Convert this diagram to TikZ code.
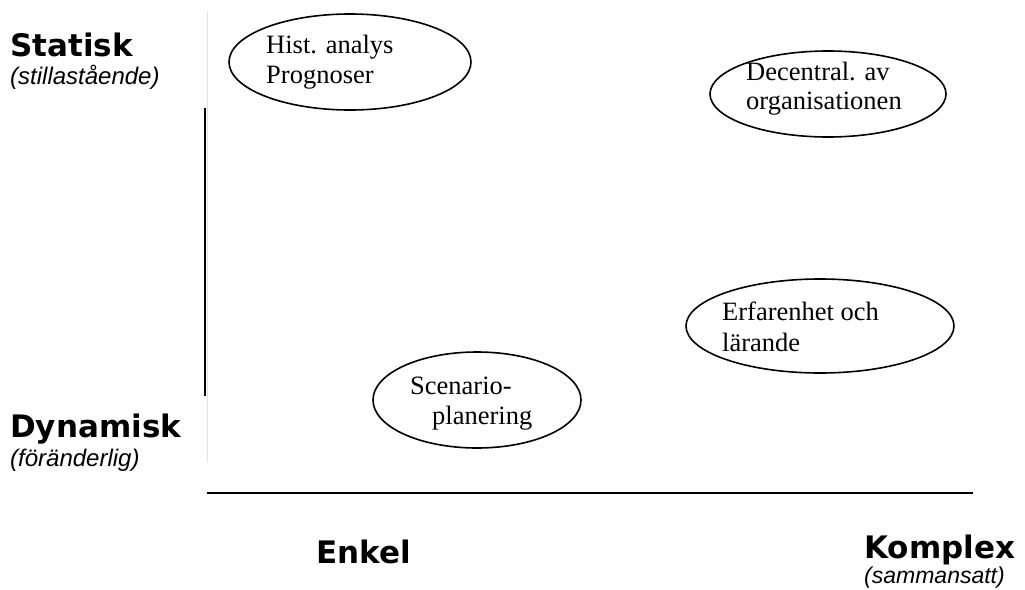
\documentclass[tikz,border=0pt]{standalone}
\usepackage{fontspec}
\setmainfont{Liberation Serif}
\newfontfamily\headfont{DejaVu Sans}
\newfontfamily\notefont{Liberation Sans}
\usetikzlibrary{shapes.geometric}

\tikzset{
  heading/.style={anchor=base west, inner sep=0pt, font=\headfont\bfseries\fontsize{31}{36}\selectfont},
  subnote/.style={anchor=base west, inner sep=0pt, font=\notefont\itshape\fontsize{24}{28}\selectfont},
  bubble/.style={draw=black, line width=1.6pt, ellipse, inner sep=0pt},
  bubbletext/.style={anchor=base west, inner sep=0pt, font=\fontsize{26.5}{30}\selectfont},
  axisline/.style={draw=black, line width=2pt},
  guideline/.style={draw=black!12, line width=0.8pt}
}

\begin{document}
\begin{tikzpicture}[x=1pt, y=-1pt]
  \useasboundingbox[fill=white] (0,0) rectangle (1025,589);

  % axes
  \coordinate (gtop) at (207,12);
  \coordinate (gbot) at (207,462);
  \draw[guideline] (gtop) -- (gbot);
  \coordinate (vtop) at (205,108);
  \coordinate (vbot) at (205,396);
  \draw[axisline] (vtop) -- (vbot);
  \coordinate (hleft) at (207,493);
  \coordinate (hright) at (973,493);
  \draw[axisline] (hleft) -- (hright);

  % axis labels
  \node[heading] (statisk) at (10,56) {Statisk};
  \node[subnote] (stilla) at (10,84) {(stillastående)};
  \node[heading] (dynamisk) at (10,437) {Dynamisk};
  \node[subnote] (foer) at (10,466) {(föränderlig)};
  \node[heading] (enkel) at (316,563) {Enkel};
  \node[heading] (komplex) at (864,558) {Komplex};
  \node[subnote, font=\notefont\itshape\fontsize{23}{28}\selectfont] (samman) at (864,583) {(sammansatt)};

  % ellipses
  \node[bubble, minimum width=242pt, minimum height=96pt] (hist) at (350,62) {};
  \node[bubble, minimum width=236pt, minimum height=86pt] (decent) at (828,94) {};
  \node[bubble, minimum width=268pt, minimum height=94pt] (erf) at (820,326) {};
  \node[bubble, minimum width=208pt, minimum height=96pt] (scen) at (477,400) {};

  % ellipse texts
  \node[bubbletext] (hist1) at (266,53) {Hist. analys};
  \node[bubbletext] (hist2) at (266,83) {Prognoser};
  \node[bubbletext] (dec1) at (746,80) {Decentral. av};
  \node[bubbletext] (dec2) at (746,109) {organisationen};
  \node[bubbletext] (erf1) at (722,320) {Erfarenhet och};
  \node[bubbletext] (erf2) at (722,351) {lärande};
  \node[bubbletext] (scen1) at (410,394) {Scenario-};
  \node[bubbletext] (scen2) at (432,424) {planering};
\end{tikzpicture}
\end{document}
